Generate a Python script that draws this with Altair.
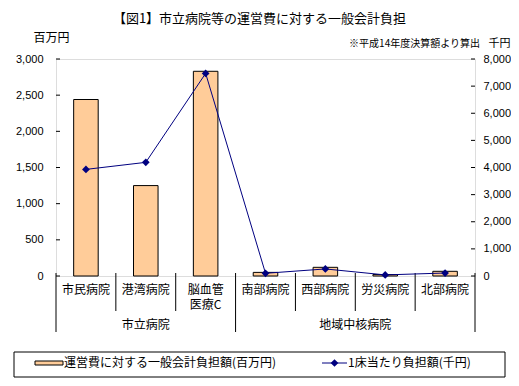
import altair as alt
import pandas as pd

# ---------------- data ----------------
categories = ["市民病院", "港湾病院", "脳血管医療C", "南部病院", "西部病院", "労災病院", "北部病院"]
label_line1 = ["市民病院", "港湾病院", "脳血管", "南部病院", "西部病院", "労災病院", "北部病院"]
label_line2 = ["", "", "医療C", "", "", "", ""]
groups = ["市立病院", "市立病院", "市立病院", "地域中核病院", "地域中核病院", "地域中核病院", "地域中核病院"]
general_burden = [2440, 1250, 2830, 50, 120, 20, 65]        # 百万円 (left axis)
per_bed_burden = [3930, 4190, 7470, 100, 260, 40, 110]      # 千円 (right axis)
left_ticks = [0, 500, 1000, 1500, 2000, 2500, 3000]
right_ticks = [0, 1000, 2000, 3000, 4000, 5000, 6000, 7000, 8000]
title_text = "【図1】市立病院等の運営費に対する一般会計負担"
left_unit = "百万円"
right_unit = "千円"
note_text = "※平成14年度決算額より算出"
legend_labels = ["運営費に対する一般会計負担額(百万円)", "1床当たり負担額(千円)"]

JP = "Noto Sans CJK JP"
BAR = "#FFCC99"
NAVY = "#000080"

main = pd.DataFrame({
    "category": categories,
    "l1": label_line1,
    "l2": label_line2,
    "group": groups,
    "burden": general_burden,
    "per_bed": per_bed_burden,
})
line2_df = main[main["l2"] != ""]
left_tick_df = pd.DataFrame({"burden": left_ticks})
right_tick_df = pd.DataFrame({"per_bed": right_ticks})
inner_sep = pd.DataFrame({"category": ["港湾病院", "脳血管医療C", "西部病院", "労災病院", "北部病院"]})
outer_sep = pd.DataFrame({"category": ["市民病院", "南部病院"]})
end_sep = pd.DataFrame({"category": ["北部病院"]})
group_pos = pd.DataFrame({"category": ["港湾病院"], "group": ["市立病院"]})
group_pos2 = pd.DataFrame({"category": ["労災病院"], "group": ["地域中核病院"]})
one = pd.DataFrame({"k": [0]})
note_df = pd.DataFrame({"t": [note_text]})
leg_bar_df = pd.DataFrame({"t": [legend_labels[0]]})
leg_line_df = pd.DataFrame({"t": [legend_labels[1]]})

xscale = alt.Scale(domain=categories, paddingInner=0, paddingOuter=0)
X = alt.X("category:N", sort=categories, scale=xscale, axis=None)

left_axis = alt.Axis(
    values=left_ticks, format=",d", ticks=False, domain=False, grid=False,
    labelPadding=13, labelFont="Liberation Sans", labelFontSize=11, labelColor="black",
    title=left_unit, titleAngle=0, titleX=-5, titleY=-22, titleAlign="center",
    titleBaseline="middle", titleFont=JP, titleFontSize=12, titleFontWeight="normal",
    titleColor="black",
)
right_axis = alt.Axis(
    orient="right", values=right_ticks, format=",d", ticks=False, domain=False, grid=False,
    labelPadding=8, labelFont="Liberation Sans", labelFontSize=11, labelColor="black",
    title=right_unit, titleAngle=0, titleX=24, titleY=-16, titleAlign="center",
    titleBaseline="middle", titleFont=JP, titleFontSize=11, titleFontWeight="normal",
    titleColor="black",
)
YL = alt.Y("burden:Q", scale=alt.Scale(domain=[0, 3000], nice=False), axis=left_axis)
YR = alt.Y("per_bed:Q", scale=alt.Scale(domain=[0, 8000], nice=False), axis=right_axis)

bars = alt.Chart(main).mark_bar(
    width=alt.RelativeBandSize(0.41), fill=BAR, stroke="black", strokeWidth=1
).encode(x=X, y=YL)

lticks = alt.Chart(left_tick_df).mark_rule(color="black", strokeWidth=1).encode(
    x=alt.value(0), x2=alt.value(4), y=YL)

# category separators and labels
sep_inner = alt.Chart(inner_sep).mark_rule(color="black").encode(
    x=alt.X("category:N", sort=categories, scale=xscale, axis=None, bandPosition=0),
    y=alt.value(214), y2=alt.value(252))
sep_outer = alt.Chart(outer_sep).mark_rule(color="black").encode(
    x=alt.X("category:N", sort=categories, scale=xscale, axis=None, bandPosition=0),
    y=alt.value(214), y2=alt.value(273))
sep_end = alt.Chart(end_sep).mark_rule(color="black").encode(
    x=alt.X("category:N", sort=categories, scale=xscale, axis=None, bandPosition=1),
    y=alt.value(214), y2=alt.value(273))

cat_text1 = alt.Chart(main).mark_text(
    font=JP, fontSize=12, baseline="middle", align="center", color="black"
).encode(x=X, y=alt.value(231), text="l1:N")
cat_text2 = alt.Chart(line2_df).mark_text(
    font=JP, fontSize=12, baseline="middle", align="center", color="black"
).encode(x=X, y=alt.value(246), text="l2:N")

grp1 = alt.Chart(group_pos).mark_text(font=JP, fontSize=12, baseline="middle", color="black").encode(
    x=X, y=alt.value(266), text="group:N")
grp2 = alt.Chart(group_pos2).mark_text(font=JP, fontSize=12, baseline="middle", color="black").encode(
    x=alt.X("category:N", sort=categories, scale=xscale, axis=None, bandPosition=0),
    y=alt.value(266), text="group:N")

note = alt.Chart(note_df).mark_text(font=JP, fontSize=10, align="right", baseline="middle", color="black").encode(
    x=alt.value(424), y=alt.value(-15), text="t:N")

# legend (drawn box)
leg_frame = alt.Chart(one).mark_rect(fill="white", stroke="black", strokeWidth=1).encode(
    x=alt.value(-42), x2=alt.value(449), y=alt.value(293), y2=alt.value(318))
leg_sw = alt.Chart(one).mark_rect(fill=BAR, stroke="black", strokeWidth=1).encode(
    x=alt.value(-21), x2=alt.value(7), y=alt.value(302), y2=alt.value(306))
leg_t1 = alt.Chart(leg_bar_df).mark_text(font=JP, fontSize=12, align="left", baseline="middle", color="black").encode(
    x=alt.value(8), y=alt.value(304), text="t:N")
leg_ln = alt.Chart(one).mark_rule(color=NAVY, strokeWidth=1).encode(
    x=alt.value(266), x2=alt.value(291), y=alt.value(304))
leg_pt = alt.Chart(one).mark_point(shape="diamond", filled=True, size=60, color=NAVY, opacity=1).encode(
    x=alt.value(278.5), y=alt.value(304))
leg_t2 = alt.Chart(leg_line_df).mark_text(font=JP, fontSize=12, align="left", baseline="middle", color="black").encode(
    x=alt.value(292), y=alt.value(304), text="t:N")

left_layer = alt.layer(bars, lticks, sep_inner, sep_outer, sep_end, cat_text1, cat_text2, grp1, grp2, note,
                       leg_frame, leg_sw, leg_t1, leg_ln, leg_pt, leg_t2)

line = alt.Chart(main).mark_line(color=NAVY, strokeWidth=1).encode(x=X, y=YR)
pts = alt.Chart(main).mark_point(shape="diamond", filled=True, size=60, color=NAVY, opacity=1).encode(x=X, y=YR)
rticks = alt.Chart(right_tick_df).mark_rule(color="black", strokeWidth=1).encode(
    x=alt.value(415), x2=alt.value(419), y=YR)

right_layer = alt.layer(line, pts, rticks)

chart = alt.layer(left_layer, right_layer).resolve_scale(y="independent").properties(
    width=419, height=217,
    autosize=alt.AutoSizeParams(type="none"),
    padding={"left": 48, "top": 51, "right": 36, "bottom": 102},
    title=alt.TitleParams(text=title_text, font=JP, fontSize=13, fontWeight="normal",
                          anchor="middle", frame="group", dx=-6, offset=5, color="black"),
).configure_view(stroke="black", strokeWidth=1).configure(background="white")

chart.save("out.html", embed_options={"renderer": "svg", "actions": False})
